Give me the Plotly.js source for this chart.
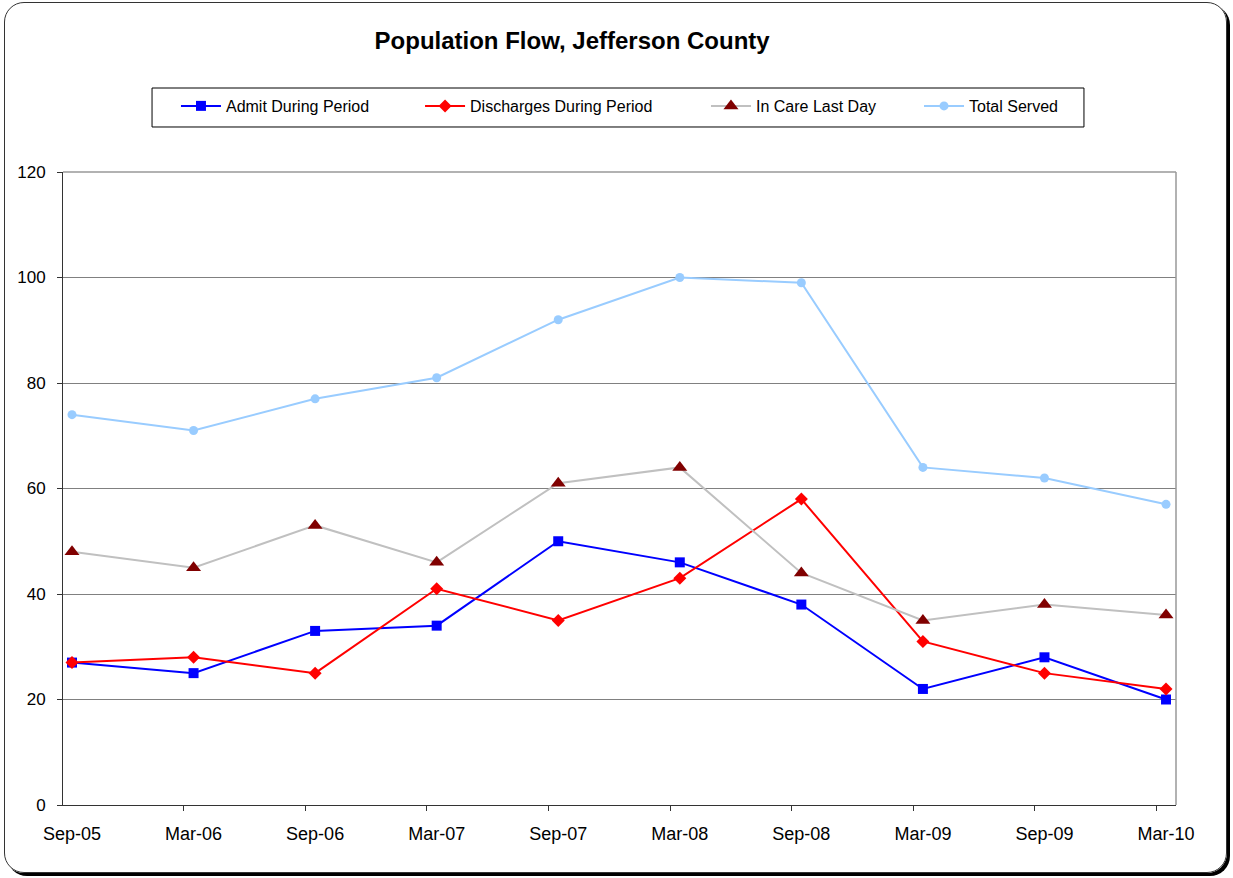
<!DOCTYPE html>
<html>
<head>
<meta charset="utf-8">
<script src="https://cdn.plot.ly/plotly-3.0.1.min.js"></script>
<style>
  html, body { margin: 0; padding: 0; background: #ffffff; }
  #wrap { position: relative; width: 1233px; height: 878px; }
  #chart { position: absolute; left: 0; top: 0; width: 1233px; height: 878px; }
  #frame {
    position: absolute; left: 4px; top: 2px; width: 1221px; height: 869px;
    border: 1.5px solid #333; border-radius: 20px;
    box-shadow: 3px 3px 0 0 #000; pointer-events: none;
  }
</style>
</head>
<body>
<div id="wrap">
  <div id="chart"></div>
  <div id="frame"></div>
</div>
<script>
// Half-year reporting periods
const periods = ["Sep-05", "Mar-06", "Sep-06", "Mar-07", "Sep-07", "Mar-08", "Sep-08", "Mar-09", "Sep-09", "Mar-10"];

// Counts per period
const admitDuringPeriod      = [27, 25, 33, 34, 50, 46, 38, 22, 28, 20];
const dischargesDuringPeriod = [27, 28, 25, 41, 35, 43, 58, 31, 25, 22];
const inCareLastDay          = [48, 45, 53, 46, 61, 64, 44, 35, 38, 36];
const totalServed            = [74, 71, 77, 81, 92, 100, 99, 64, 62, 57];

const yTicks = [0, 20, 40, 60, 80, 100, 120];

const idx = periods.map((_, i) => i);

const series = [
  { name: "Admit During Period", y: admitDuringPeriod, legend: "legend",
    line: { color: "#0000FF", width: 2 },
    marker: { symbol: "square", size: 10, color: "#0000FF" } },
  { name: "Discharges During Period", y: dischargesDuringPeriod, legend: "legend2",
    line: { color: "#FF0000", width: 2 },
    marker: { symbol: "diamond", size: 10, color: "#FF0000" } },
  { name: "In Care Last Day", y: inCareLastDay, legend: "legend3",
    line: { color: "#C0C0C0", width: 2 },
    marker: { symbol: "triangle-up", size: 13, color: "#800000" } },
  { name: "Total Served", y: totalServed, legend: "legend4",
    line: { color: "#99CCFF", width: 2 },
    marker: { symbol: "circle", size: 9, color: "#99CCFF" } }
];

const traces = series.map(s => ({
  type: "scatter", mode: "lines+markers", x: idx, y: s.y, name: s.name,
  legend: s.legend, line: s.line, marker: s.marker, cliponaxis: false
}));

const font = "Liberation Sans, Arial, Helvetica, sans-serif";

// One legend per series so each entry sits at its own spot inside the shared box
function legendAt(xPaper) {
  return {
    orientation: "h", x: xPaper, xanchor: "left", y: 1.1043, yanchor: "middle",
    borderwidth: 0, bgcolor: "rgba(0,0,0,0)",
    font: { family: font, size: 16, color: "#000" }, itemwidth: 40
  };
}

const layout = {
  width: 1233, height: 878,
  paper_bgcolor: "#ffffff", plot_bgcolor: "#ffffff",
  margin: { l: 63, r: 57, t: 172, b: 73 },
  font: { family: font, color: "#000" },
  title: {
    text: "<b>Population Flow, Jefferson County</b>",
    font: { family: font, size: 24, color: "#000" },
    x: 0.464, xref: "container", xanchor: "center",
    y: 1 - 41 / 878, yref: "container", yanchor: "middle"
  },
  showlegend: true,
  legend:  legendAt(0.1015),
  legend2: legendAt(0.3208),
  legend3: legendAt(0.5777),
  legend4: legendAt(0.7691),
  xaxis: {
    range: [-0.074, 9.082],
    tickmode: "array", tickvals: idx, ticktext: periods,
    ticks: "", showgrid: false, zeroline: false,
    showline: true, linecolor: "#333", linewidth: 1, mirror: false,
    tickfont: { family: font, size: 18, color: "#000" },
    ticklabelstandoff: 12,
    minor: { tickmode: "array", tickvals: idx.map(i => i - 0.08), ticks: "outside", ticklen: 5, tickcolor: "#333", showgrid: false }
  },
  yaxis: {
    range: [0, 120], tickmode: "array", tickvals: yTicks,
    ticks: "outside", ticklen: 5, tickcolor: "#333",
    showgrid: true, gridcolor: "#808080", gridwidth: 1,
    zeroline: false, showline: true, linecolor: "#333", linewidth: 1,
    tickfont: { family: font, size: 17, color: "#000" },
    ticklabelstandoff: 8
  },
  shapes: [
    // plot area border, top and right
    { type: "line", xref: "paper", yref: "paper", x0: 0, x1: 1, y0: 1, y1: 1, line: { color: "#999", width: 1.5 } },
    { type: "line", xref: "paper", yref: "paper", x0: 1, x1: 1, y0: 0, y1: 1, line: { color: "#999", width: 1.5 } },
    // legend box
    { type: "rect", xref: "paper", yref: "paper", x0: 0.080, x1: 0.9173, y0: 1.0711, y1: 1.1327,
      line: { color: "#000", width: 1 }, fillcolor: "rgba(0,0,0,0)" }
  ]
};

Plotly.newPlot("chart", traces, layout, { displayModeBar: false, staticPlot: true });
</script>
</body>
</html>
